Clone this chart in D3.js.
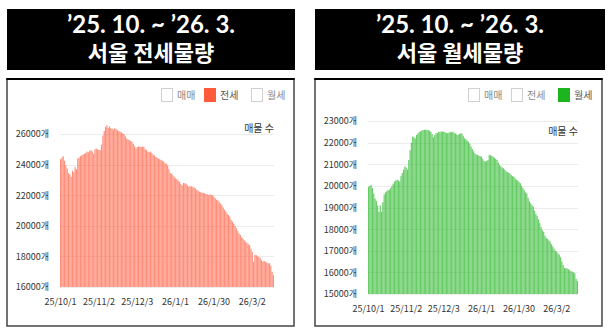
<!DOCTYPE html>
<html><head><meta charset="utf-8">
<script src="https://cdn.jsdelivr.net/npm/d3@7"></script>
<style>
html,body{margin:0;padding:0;background:#fff;}
svg{display:block;}
</style></head>
<body>
<svg id="c" width="611" height="333"></svg>
<script>
// ---- data ----
const titleLine1 = "\u201925. 10. ~ \u201926. 3.";
const titleJeonse = "서울 전세물량";
const titleWolse = "서울 월세물량";
const legendNames = ["매매", "전세", "월세"];
const tickLabels = ["25/10/1", "25/11/2", "25/12/3", "26/1/1", "26/1/30", "26/3/2"];
const tickIndex = [0, 29, 58, 87, 116, 145];
const jeonseTicks = [16000, 18000, 20000, 22000, 24000, 26000];
const wolseTicks = [15000, 16000, 17000, 18000, 19000, 20000, 21000, 22000, 23000];
const jeonseValues = [
24350,24450,24550,24250,23950,23750,23450,23350,23200,23600,
23500,23850,23700,24400,24450,24550,24600,24650,24700,24750,
24850,24800,24900,24950,24850,24700,25000,25050,25000,24950,
24950,25300,25900,26200,26450,26580,26400,26500,26380,26350,
26300,26380,26320,26250,26200,26150,26100,26050,26000,25850,
25700,25650,25600,25550,25500,25350,25200,25050,25150,25180,
25170,25150,25180,25150,25000,24950,24850,24800,24850,24750,
24650,24600,24500,24450,24400,24350,24300,24250,24200,24100,
24050,23950,23700,23450,23400,23300,23200,23100,23050,22950,
22880,22750,22650,22800,22780,22750,22650,22550,22600,22580,
22550,22500,22450,22350,22300,22230,22200,22150,22150,22120,
22080,22050,22000,22050,22020,22000,21900,21800,21700,21650,
21570,21450,21350,21200,21050,20920,20800,20700,20600,20400,
20270,20150,20000,19830,19650,19500,19400,19250,19180,19050,
18960,18900,18800,18740,18500,18300,17650,18100,18090,18000,
17980,17900,17750,17650,17700,17650,17600,17550,17550,17400,
17000,16780];
const wolseValues = [
19950,20000,20050,19900,19650,19420,19300,19100,18800,19100,
18800,19250,19600,19700,19750,19800,19820,19900,20000,20100,
20200,20250,20280,20250,20200,20450,20600,20750,20900,20850,
20750,21200,21650,22000,22280,22250,22200,22350,22430,22480,
22520,22560,22580,22590,22600,22580,22580,22550,22500,22400,
22250,22350,22430,22450,22500,22480,22520,22500,22510,22480,
22450,22430,22460,22500,22480,22510,22450,22420,22380,22350,
22400,22430,22420,22300,22200,22150,22100,22040,21950,21820,
21700,21600,21500,21450,21430,21400,21380,21350,21250,21150,
21120,21150,21200,21430,21420,21380,21350,21300,21250,21200,
21080,20970,20900,20850,20810,20750,20680,20640,20600,20580,
20500,20450,20420,20350,20280,20250,20180,20120,20000,19900,
19800,19700,19650,19450,19280,19200,19100,19040,18850,18700,
18600,18450,18280,18100,17950,17880,17700,17600,17550,17480,
17420,17300,17200,17100,17000,16960,16880,16820,16700,16500,
16350,16200,16190,16190,16150,16100,16050,16040,16000,15960,
15700,15600];

const svg = d3.select("#c");
const KR = "'Noto Sans CJK KR','Noto Sans',sans-serif";

function panel(cfg) {
  const g = svg.append("g");
  // title box
  g.append("rect").attr("x", cfg.bx).attr("y", 9).attr("width", cfg.bw).attr("height", 61).attr("fill", "#000");
  const cx = cfg.bx + cfg.bw / 2;
  g.append("text").attr("x", cx).attr("y", 33).attr("text-anchor", "middle")
    .attr("fill", "#fff").attr("font-family", "Lato,'Noto Sans CJK KR',sans-serif").attr("font-weight", 700)
    .attr("font-size", 24).text(titleLine1);
  g.append("text").attr("x", cx).attr("y", 61).attr("text-anchor", "middle")
    .attr("fill", "#fff").attr("font-family", KR).attr("font-weight", 700)
    .attr("font-size", 22).text(cfg.title);
  // frame
  g.append("rect").attr("x", cfg.fx).attr("y", 79).attr("width", cfg.fw).attr("height", 247)
    .attr("fill", "#fff").attr("stroke", "#444").attr("stroke-width", 1.5);
  g.append("line").attr("x1", cfg.fx - 0.75).attr("x2", cfg.fx + cfg.fw + 0.75).attr("y1", 79).attr("y2", 79)
    .attr("stroke", "#000").attr("stroke-width", 2);

  const idx = d3.range(cfg.values.length);
  const x = d3.scaleBand().domain(idx).range([cfg.x0, cfg.x1]).paddingInner(0.12).paddingOuter(0);
  const y = d3.scaleLinear().domain([cfg.ticks[0], cfg.ticks[cfg.ticks.length - 1]]).range([cfg.y0, cfg.y1]);

  // grid
  g.append("g").selectAll("line").data(cfg.ticks).join("line")
    .attr("x1", cfg.x0).attr("x2", cfg.x1)
    .attr("y1", d => Math.round(y(d)) + 0.5).attr("y2", d => Math.round(y(d)) + 0.5)
    .attr("stroke", "#ececec").attr("stroke-width", 1);

  // y axis
  const ya = g.append("g").attr("transform", `translate(${cfg.x0 - 11},0)`)
    .call(d3.axisLeft(y).tickValues(cfg.ticks).tickSize(0).tickPadding(0).tickFormat(d => d + "개"));
  ya.select(".domain").remove();
  ya.selectAll("text").attr("font-family", KR).attr("font-size", 9).attr("fill", "#333");

  // bars
  g.append("g").selectAll("rect").data(cfg.values).join("rect")
    .attr("x", (d, i) => x(i)).attr("width", x.bandwidth())
    .attr("y", d => y(d)).attr("height", d => y(cfg.ticks[0]) - y(d))
    .attr("fill", cfg.color).attr("fill-opacity", 0.68);

  // x axis
  const xa = g.append("g").attr("transform", `translate(0,${cfg.y0 + 12})`)
    .call(d3.axisBottom(x).tickValues(tickIndex).tickSize(0).tickPadding(0)
      .tickFormat(d => tickLabels[tickIndex.indexOf(d)]));
  xa.select(".domain").remove();
  xa.selectAll("text").attr("font-family", KR).attr("font-size", 9).attr("fill", "#333");

  // unit label
  g.append("text").attr("x", cfg.x1).attr("y", cfg.unitY).attr("text-anchor", "end")
    .attr("font-family", KR).attr("font-size", 10).attr("fill", "#333").text("매물 수");

  // legend
  const lg = g.append("g").attr("transform", `translate(${cfg.lx},88)`);
  const offs = [0, 43, 90];
  legendNames.forEach((n, k) => {
    const active = k === cfg.active;
    lg.append("rect").attr("x", offs[k] + 0.5).attr("y", 0.5).attr("width", 11).attr("height", 13)
      .attr("fill", active ? cfg.color : "#fff").attr("stroke", active ? cfg.color : "#d0d0d0");
    lg.append("text").attr("x", offs[k] + 16).attr("y", 11).attr("font-family", KR).attr("font-size", 10)
      .attr("fill", active ? "#555" : "#888").text(n);
  });
}

panel({bx: 7, bw: 288, fx: 7, fw: 287, title: titleJeonse, values: jeonseValues, ticks: jeonseTicks,
  x0: 60, x1: 274, y0: 287, y1: 134, color: "#ff5a3c", active: 1, lx: 161, unitY: 132});
panel({bx: 315, bw: 290, fx: 315, fw: 287, title: titleWolse, values: wolseValues, ticks: wolseTicks,
  x0: 368, x1: 578, y0: 294, y1: 121, color: "#1eb41e", active: 2, lx: 468, unitY: 135});
</script>
</body></html>
